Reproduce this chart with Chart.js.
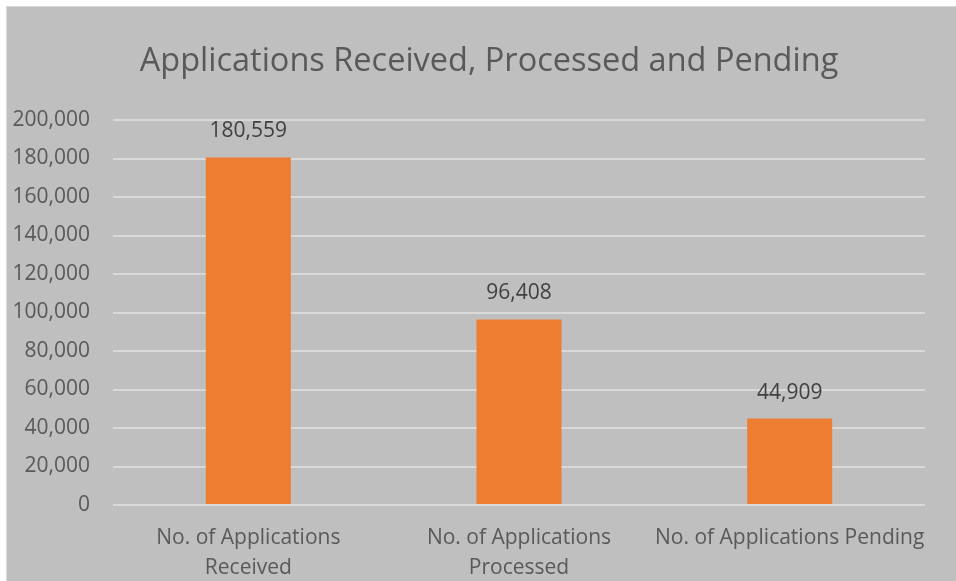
<!DOCTYPE html>
<html>
<head>
<meta charset="utf-8">
<script src="https://cdn.jsdelivr.net/npm/chart.js@4.4.0/dist/chart.umd.min.js"></script>
<style>
  body { margin: 0; background: #ffffff; }
  #wrap { position: absolute; left: 6px; top: 6px; width: 949px; height: 574px; border: 1px solid #d9d9d9; border-right: none; border-bottom: none; background: #bfbfbf; }
  canvas { display: block; }
</style>
</head>
<body>
<div id="wrap"><canvas id="chart" width="949" height="574"></canvas></div>
<script>
// --- DADOS ---
const categories = [
    ['No. of Applications', 'Received'],
    ['No. of Applications', 'Processed'],
    'No. of Applications Pending'
];
const values = [180559, 96408, 44909];
const yMax = 200000;
const yStep = 20000;

const fontFamily = '"Open Sans", Lato, sans-serif';
const fmt = v => v.toLocaleString('en-US');

// rótulos de valor acima das barras
const barLabels = {
    id: 'barLabels',
    afterDatasetsDraw(chart) {
        const ctx = chart.ctx;
        ctx.save();
        ctx.fillStyle = '#404040';
        ctx.font = '21px ' + fontFamily;
        ctx.textAlign = 'center';
        ctx.textBaseline = 'middle';
        chart.getDatasetMeta(0).data.forEach((bar, i) => {
            ctx.fillText(fmt(values[i]), bar.x, bar.y - 26);
        });
        ctx.restore();
    }
};

// o título no original fica um pouco à direita do centro
const titleShift = {
    id: 'titleShift',
    afterLayout(chart) {
        if (chart.titleBlock) {
            chart.titleBlock.left += 23;
            chart.titleBlock.right += 23;
        }
    }
};

new Chart(document.getElementById('chart'), {
    type: 'bar',
    data: {
        labels: categories,
        datasets: [{
            data: values,
            backgroundColor: '#ed7d31',
            borderWidth: 0,
            barPercentage: 0.314,
            categoryPercentage: 1
        }]
    },
    options: {
        responsive: false,
        animation: false,
        layout: { padding: { left: 0, right: 31, top: 0, bottom: 0 } },
        plugins: {
            legend: { display: false },
            tooltip: { enabled: false },
            title: {
                display: true,
                text: 'Applications Received, Processed and Pending',
                color: '#595959',
                font: { family: fontFamily, size: 32.5, weight: 'normal', lineHeight: 1.2 },
                padding: { top: 35, bottom: 39 }
            }
        },
        scales: {
            x: {
                afterFit(scale) { scale.height = 76; },
                grid: { display: false, drawTicks: false },
                border: { display: false },
                ticks: {
                    color: '#595959',
                    font: { family: fontFamily, size: 21, lineHeight: 1.42 },
                    padding: 18,
                    maxRotation: 0,
                    autoSkip: false
                }
            },
            y: {
                min: 0,
                max: yMax,
                afterFit(scale) { scale.width = 106; },
                grid: { color: '#d9d9d9', lineWidth: 2, drawTicks: false },
                border: { display: false },
                ticks: {
                    stepSize: yStep,
                    color: '#595959',
                    font: { family: fontFamily, size: 21 },
                    padding: 23,
                    callback: v => fmt(v)
                }
            }
        }
    },
    plugins: [barLabels, titleShift]
});
</script>
</body>
</html>
